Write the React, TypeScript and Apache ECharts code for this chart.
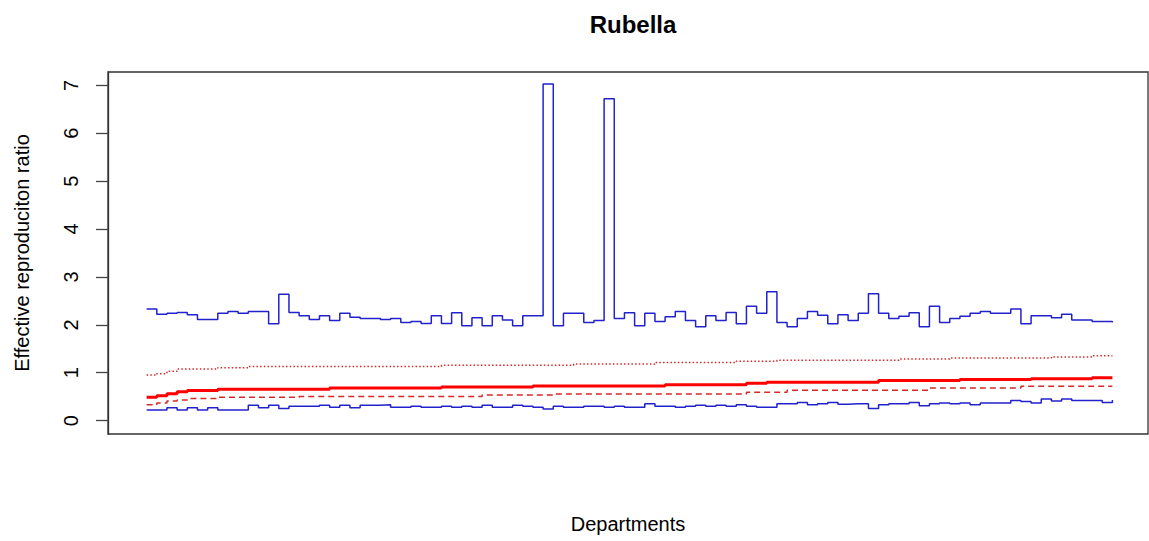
import React, { useEffect, useRef } from "react";
import * as echarts from "echarts";

// 96 departments (sorted by median effective reproduction ratio)
const departmentCount = 96;
const departments: number[] = Array.from({ length: departmentCount }, (_, i) => i + 1);

const upperCI: number[] = [
  2.33, 2.22, 2.24, 2.26, 2.21, 2.11, 2.11, 2.24, 2.28, 2.24,
  2.28, 2.28, 2.02, 2.64, 2.26, 2.19, 2.11, 2.19, 2.09, 2.24,
  2.16, 2.13, 2.13, 2.11, 2.13, 2.05, 2.07, 2.03, 2.19, 2.03,
  2.25, 1.98, 2.15, 1.98, 2.19, 2.10, 1.98, 2.19, 2.19, 7.03,
  1.98, 2.24, 2.24, 2.05, 2.09, 6.72, 2.13, 2.25, 1.98, 2.24,
  2.07, 2.17, 2.28, 2.09, 1.96, 2.19, 2.09, 2.26, 2.02, 2.39,
  2.24, 2.69, 2.05, 1.96, 2.13, 2.28, 2.20, 2.02, 2.21, 2.09,
  2.24, 2.65, 2.24, 2.13, 2.18, 2.25, 1.96, 2.39, 2.05, 2.13,
  2.18, 2.24, 2.28, 2.24, 2.24, 2.33, 2.02, 2.19, 2.19, 2.15,
  2.22, 2.10, 2.10, 2.07, 2.07, 2.05,
];

const lowerCI: number[] = [
  0.22, 0.22, 0.27, 0.22, 0.27, 0.22, 0.27, 0.22, 0.22, 0.22,
  0.32, 0.27, 0.32, 0.25, 0.30, 0.30, 0.30, 0.32, 0.28, 0.32,
  0.27, 0.32, 0.32, 0.33, 0.28, 0.28, 0.30, 0.28, 0.28, 0.30,
  0.28, 0.30, 0.28, 0.32, 0.28, 0.28, 0.32, 0.30, 0.28, 0.24,
  0.30, 0.28, 0.28, 0.30, 0.30, 0.28, 0.30, 0.28, 0.28, 0.35,
  0.30, 0.30, 0.28, 0.30, 0.32, 0.30, 0.32, 0.30, 0.33, 0.30,
  0.28, 0.28, 0.35, 0.35, 0.38, 0.33, 0.35, 0.38, 0.34, 0.35,
  0.35, 0.25, 0.33, 0.35, 0.35, 0.38, 0.31, 0.35, 0.37, 0.35,
  0.37, 0.33, 0.37, 0.37, 0.37, 0.42, 0.40, 0.37, 0.45, 0.41,
  0.45, 0.42, 0.42, 0.42, 0.38, 0.43,
];

const medianR: number[] = [
  0.49, 0.52, 0.56, 0.60, 0.63, 0.63, 0.63, 0.655, 0.655, 0.655,
  0.655, 0.655, 0.655, 0.655, 0.655, 0.655, 0.655, 0.655, 0.68, 0.68,
  0.68, 0.68, 0.68, 0.68, 0.68, 0.68, 0.68, 0.68, 0.68, 0.70,
  0.70, 0.70, 0.70, 0.70, 0.70, 0.70, 0.70, 0.70, 0.725, 0.725,
  0.725, 0.725, 0.725, 0.725, 0.725, 0.725, 0.725, 0.725, 0.725, 0.725,
  0.725, 0.75, 0.75, 0.75, 0.75, 0.75, 0.75, 0.75, 0.75, 0.78,
  0.78, 0.80, 0.80, 0.80, 0.80, 0.80, 0.80, 0.80, 0.80, 0.80,
  0.80, 0.80, 0.835, 0.835, 0.835, 0.835, 0.835, 0.835, 0.835, 0.835,
  0.86, 0.86, 0.86, 0.86, 0.86, 0.86, 0.86, 0.875, 0.875, 0.875,
  0.875, 0.875, 0.875, 0.895, 0.895, 0.895,
];

const lowerQ: number[] = [
  0.33, 0.37, 0.41, 0.43, 0.46, 0.46, 0.46, 0.49, 0.49, 0.49,
  0.49, 0.49, 0.49, 0.49, 0.49, 0.505, 0.505, 0.505, 0.505, 0.505,
  0.505, 0.505, 0.505, 0.505, 0.505, 0.505, 0.505, 0.505, 0.505, 0.505,
  0.505, 0.505, 0.505, 0.535, 0.535, 0.535, 0.535, 0.535, 0.535, 0.535,
  0.555, 0.555, 0.555, 0.555, 0.555, 0.555, 0.555, 0.555, 0.555, 0.555,
  0.555, 0.555, 0.555, 0.555, 0.555, 0.555, 0.555, 0.555, 0.555, 0.59,
  0.59, 0.59, 0.59, 0.635, 0.635, 0.635, 0.635, 0.635, 0.635, 0.635,
  0.635, 0.635, 0.635, 0.635, 0.635, 0.635, 0.635, 0.68, 0.68, 0.68,
  0.68, 0.68, 0.68, 0.68, 0.68, 0.68, 0.715, 0.715, 0.715, 0.715,
  0.715, 0.715, 0.715, 0.715, 0.715, 0.715,
];

const upperQ: number[] = [
  0.95, 0.98, 1.03, 1.075, 1.075, 1.075, 1.075, 1.105, 1.105, 1.105,
  1.13, 1.13, 1.13, 1.13, 1.13, 1.13, 1.13, 1.13, 1.13, 1.13,
  1.13, 1.13, 1.13, 1.13, 1.13, 1.13, 1.13, 1.13, 1.13, 1.155,
  1.155, 1.155, 1.155, 1.155, 1.155, 1.155, 1.155, 1.155, 1.155, 1.155,
  1.155, 1.155, 1.18, 1.18, 1.18, 1.18, 1.18, 1.18, 1.18, 1.18,
  1.215, 1.215, 1.215, 1.215, 1.215, 1.215, 1.215, 1.215, 1.24, 1.24,
  1.24, 1.24, 1.26, 1.26, 1.26, 1.26, 1.26, 1.26, 1.26, 1.26,
  1.26, 1.26, 1.26, 1.26, 1.285, 1.285, 1.285, 1.285, 1.285, 1.305,
  1.305, 1.305, 1.305, 1.305, 1.305, 1.305, 1.305, 1.305, 1.305, 1.33,
  1.33, 1.33, 1.33, 1.355, 1.355, 1.355,
];

const yTicks: number[] = [0, 1, 2, 3, 4, 5, 6, 7];

const FONT = "'Liberation Sans', Arial, sans-serif";

function pairs(values: number[]): [number, number][] {
  return departments.map((d, i) => [d, values[i]]);
}

export default function App() {
  const ref = useRef<HTMLDivElement>(null);

  useEffect(() => {
    if (!ref.current) return;
    const chart = echarts.init(ref.current, undefined, { renderer: "svg" });
    const baseLine = { symbol: "none", step: "end" as const, silent: true };
    chart.setOption({
      animation: false,
      backgroundColor: "#ffffff",
      title: {
        text: "Rubella",
        left: 628,
        textAlign: "center",
        top: 7,
        textStyle: { fontFamily: FONT, fontSize: 24, fontWeight: "bold", color: "#000" },
      },
      grid: {
        left: 108,
        top: 72,
        width: 1040,
        height: 362,
        show: true,
        borderColor: "#333",
        borderWidth: 1.3,
        backgroundColor: "transparent",
        containLabel: false,
      },
      xAxis: {
        type: "value",
        min: -2.8,
        max: 99.5,
        axisLine: { show: false },
        axisTick: { show: false },
        axisLabel: { show: false },
        splitLine: { show: false },
        name: "Departments",
        nameLocation: "middle",
        nameGap: 80,
        nameTextStyle: { fontFamily: FONT, fontSize: 20, color: "#000" },
      },
      yAxis: {
        type: "value",
        min: -0.28,
        max: 7.28,
        axisLine: { show: true, onZero: false, lineStyle: { color: "#333", width: 1.3 } },
        splitLine: { show: false },
        axisTick: {
          show: true,
          inside: false,
          length: 12,
          customValues: yTicks,
          lineStyle: { color: "#444", width: 1.3 },
        },
        axisLabel: {
          show: true,
          rotate: 90,
          margin: 27,
          customValues: yTicks,
          fontFamily: FONT,
          fontSize: 20,
          color: "#000",
        },
        name: "Effective reproduciton ratio",
        nameLocation: "middle",
        nameRotate: 90,
        nameGap: 76,
        nameTextStyle: { fontFamily: FONT, fontSize: 20, color: "#000" },
      },
      series: [
        {
          ...baseLine,
          type: "line",
          name: "Upper CI",
          data: pairs(upperCI),
          lineStyle: { color: "#2222cc", width: 1.5 },
        },
        {
          ...baseLine,
          type: "line",
          name: "Upper quantile",
          data: pairs(upperQ),
          lineStyle: { color: "#d42a2a", width: 1.5, type: [1.5, 2.2] },
        },
        {
          ...baseLine,
          type: "line",
          name: "Median",
          data: pairs(medianR),
          lineStyle: { color: "#ff0000", width: 3 },
        },
        {
          ...baseLine,
          type: "line",
          name: "Lower quantile",
          data: pairs(lowerQ),
          lineStyle: { color: "#d42a2a", width: 1.5, type: [6, 4] },
        },
        {
          ...baseLine,
          type: "line",
          name: "Lower CI",
          data: pairs(lowerCI),
          lineStyle: { color: "#2222cc", width: 1.5 },
        },
      ],
    });
    return () => chart.dispose();
  }, []);

  return (
    <div
      ref={ref}
      style={{ position: "absolute", left: 0, top: 0, width: "1149px", height: "541px" }}
    />
  );
}
